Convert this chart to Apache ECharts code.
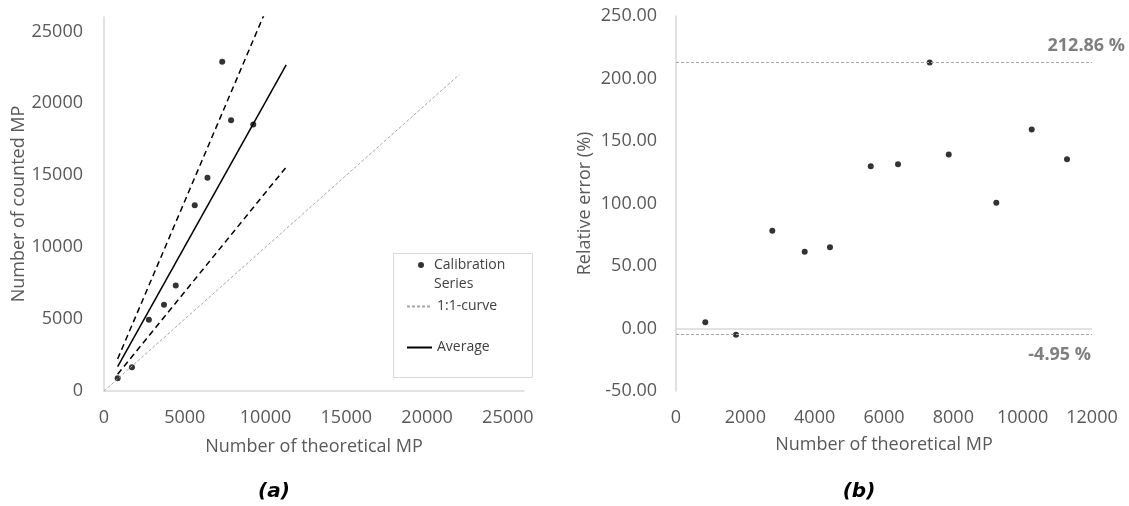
<!DOCTYPE html>
<html>
<head>
<meta charset="utf-8">
<title>Calibration series – counted vs theoretical MP</title>
<script src="https://cdn.jsdelivr.net/npm/echarts@6/dist/echarts.min.js"></script>
<style>
  html, body { margin: 0; padding: 0; background: #ffffff; }
  #chart { width: 1129px; height: 506px; }
</style>
</head>
<body>
<div id="chart"></div>
<script>
// Theoretical number of MP per calibration sample
const theoreticalMP = [845, 1731, 2778, 3713, 4442, 5617, 6404, 7318, 7867, 9240, 10261, 11279];
// Counted MP (panel a); the two largest samples lie above the 26000 axis limit
const countedMP = [887, 1645, 4950, 5993, 7329, 12908, 14819, 22895, 18818, 18535];
// Relative error of the count in percent (panel b)
const relativeErrorPct = [5.0, -4.95, 78.2, 61.4, 65.0, 129.8, 131.4, 212.86, 139.2, 100.6, 159.2, 135.4];
// Max / min relative error
const errorLimits = [212.86, -4.95];

// Reference lines of panel (a), as [theoretical, counted] end points
const oneToOneLine = [[0, 0], [22000, 22000]];
const averageLine = [[845, 1700], [11279, 22670]];
const upperBoundLine = [[845, 2230], [11279, 29780]];
const lowerBoundLine = [[845, 1166], [11279, 15565]];

// Axis ranges and steps
const countAxis = { min: 0, max: 26000, step: 5000 };
const theoAxisB = { min: 0, max: 12000, step: 2000 };
const errorAxis = { min: -50, max: 250, step: 50 };

const panelLabels = ['(a)', '(b)'];

const FONT = '"Open Sans", "Liberation Sans", sans-serif';
const TICK_COLOR = '#595959';
const AXIS_LINE = '#d9d9d9';

const scatterA = theoreticalMP.slice(0, countedMP.length).map((t, i) => [t, countedMP[i]]);
const scatterB = theoreticalMP.map((t, i) => [t, relativeErrorPct[i]]);

const chart = echarts.init(document.getElementById('chart'), null, { renderer: 'canvas' });

const tickLabel = { color: TICK_COLOR, fontSize: 18, fontFamily: FONT };
const nameStyle = { color: TICK_COLOR, fontSize: 18, fontFamily: FONT };
const plainNumber = v => String(v);

const option = {
  animation: false,
  backgroundColor: '#ffffff',
  grid: [
    { left: 104, right: 605, top: 17, bottom: 115 },
    { left: 676, right: 37, top: 16, bottom: 115 }
  ],
  xAxis: [
    {
      gridIndex: 0, type: 'value',
      min: countAxis.min, max: countAxis.max, interval: countAxis.step,
      name: 'Number of theoretical MP', nameLocation: 'middle', nameGap: 47,
      nameTextStyle: nameStyle,
      axisLine: { show: true, lineStyle: { color: AXIS_LINE, width: 1.5 } },
      axisTick: { show: false },
      splitLine: { show: false },
      axisLabel: Object.assign({ margin: 18, showMaxLabel: false, formatter: plainNumber }, tickLabel)
    },
    {
      gridIndex: 1, type: 'value',
      min: theoAxisB.min, max: theoAxisB.max, interval: theoAxisB.step,
      name: 'Number of theoretical MP', nameLocation: 'middle', nameGap: 45,
      nameTextStyle: nameStyle,
      axisLine: { show: false, onZero: false },
      axisTick: { show: false },
      splitLine: { show: false },
      axisLabel: Object.assign({ margin: 18, formatter: plainNumber }, tickLabel)
    }
  ],
  yAxis: [
    {
      gridIndex: 0, type: 'value',
      min: countAxis.min, max: countAxis.max, interval: countAxis.step,
      name: 'Number of counted MP', nameLocation: 'middle', nameGap: 72,
      nameTextStyle: nameStyle,
      axisLine: { show: true, lineStyle: { color: AXIS_LINE, width: 1.5 } },
      axisTick: { show: false },
      splitLine: { show: false },
      axisLabel: Object.assign({ margin: 21, showMaxLabel: false, formatter: plainNumber }, tickLabel)
    },
    {
      gridIndex: 1, type: 'value',
      min: errorAxis.min, max: errorAxis.max, interval: errorAxis.step,
      name: 'Relative error (%)', nameLocation: 'middle', nameGap: 82,
      nameTextStyle: nameStyle,
      axisLine: { show: true, lineStyle: { color: AXIS_LINE, width: 1.5 } },
      axisTick: { show: false },
      splitLine: { show: false },
      axisLabel: Object.assign({ margin: 19, formatter: v => v.toFixed(2) }, tickLabel)
    }
  ],
  legend: [
    {
      data: ['Calibration Series'],
      left: 418, top: 236.5, orient: 'vertical', padding: 0,
      itemWidth: 16, itemHeight: 6,
      // leading empty line keeps the marker level with the first text line
      formatter: () => '\nCalibration\nSeries',
      textStyle: { color: '#404040', fontSize: 14, fontFamily: FONT, lineHeight: 19 },
      selectedMode: false
    },
    {
      data: ['1:1-curve', 'Average'],
      left: 406, top: 297, orient: 'vertical', padding: 0,
      itemWidth: 25, itemHeight: 14, itemGap: 22,
      itemStyle: { color: 'rgba(0,0,0,0)', borderWidth: 0, opacity: 0 },
      textStyle: { color: '#404040', fontSize: 14, fontFamily: FONT, lineHeight: 19 },
      selectedMode: false
    }
  ],
  series: [
    {
      name: '1:1-curve', type: 'line', xAxisIndex: 0, yAxisIndex: 0,
      data: oneToOneLine, symbol: 'none', silent: true,
      lineStyle: { color: '#a6a6a6', width: 1, type: [3, 2] },
      itemStyle: { color: '#a6a6a6' }
    },
    {
      name: 'Upper bound', type: 'line', xAxisIndex: 0, yAxisIndex: 0,
      data: upperBoundLine, symbol: 'none', silent: true, clip: true,
      lineStyle: { color: '#000000', width: 1.5, type: [6, 4] }
    },
    {
      name: 'Lower bound', type: 'line', xAxisIndex: 0, yAxisIndex: 0,
      data: lowerBoundLine, symbol: 'none', silent: true, clip: true,
      lineStyle: { color: '#000000', width: 1.5, type: [6, 4] }
    },
    {
      name: 'Average', type: 'line', xAxisIndex: 0, yAxisIndex: 0,
      data: averageLine, symbol: 'none', silent: true,
      lineStyle: { color: '#000000', width: 1.5, type: 'solid' },
      itemStyle: { color: '#000000' }
    },
    {
      name: 'Calibration Series', type: 'scatter', xAxisIndex: 0, yAxisIndex: 0,
      data: scatterA, symbol: 'circle', symbolSize: 6,
      itemStyle: { color: '#000000' }
    },
    {
      name: 'Relative error', type: 'scatter', xAxisIndex: 1, yAxisIndex: 1,
      data: scatterB, symbol: 'circle', symbolSize: 6,
      itemStyle: { color: '#000000' },
      markLine: {
        silent: true, symbol: 'none', animation: false,
        label: { show: false },
        data: [
          { yAxis: 0, lineStyle: { color: AXIS_LINE, width: 1.5, type: 'solid' } },
          { yAxis: errorLimits[0], lineStyle: { color: '#a6a6a6', width: 1, type: [3, 2] } },
          { yAxis: errorLimits[1], lineStyle: { color: '#a6a6a6', width: 1, type: [3, 2] } }
        ]
      }
    }
  ]
};

chart.setOption(option);

// Value tags for the error limits and the panel captions
const limitStyle = { fill: '#7f7f7f', fontSize: 18, fontWeight: 'bold', fontFamily: FONT };
const pMax = chart.convertToPixel({ gridIndex: 1 }, [theoAxisB.max, errorLimits[0]]);
const pMin = chart.convertToPixel({ gridIndex: 1 }, [theoAxisB.max, errorLimits[1]]);
const gridA = chart.getModel().getComponent('grid', 0).coordinateSystem.getRect();
const gridB = chart.getModel().getComponent('grid', 1).coordinateSystem.getRect();
const captionStyle = { align: 'center', verticalAlign: 'middle', fill: '#000000',
  fontSize: 20, fontWeight: 'bold', fontStyle: 'italic', fontFamily: '"DejaVu Sans", sans-serif' };

chart.setOption({
  graphic: [
    {
      type: 'rect', silent: true,
      shape: { x: 393.5, y: 253.5, width: 139, height: 124 },
      style: { fill: 'none', stroke: '#d9d9d9', lineWidth: 1 }
    },
    {
      type: 'text', silent: true, x: pMax[0] + 33, y: pMax[1] - 17,
      style: Object.assign({ text: errorLimits[0].toFixed(2) + ' %', align: 'right', verticalAlign: 'middle' }, limitStyle)
    },
    {
      type: 'text', silent: true, x: pMin[0] - 1, y: pMin[1] + 20,
      style: Object.assign({ text: errorLimits[1].toFixed(2) + ' %', align: 'right', verticalAlign: 'middle' }, limitStyle)
    },
    {
      type: 'text', silent: true, x: gridA.x + gridA.width / 2 - 40, y: 492,
      style: Object.assign({ text: panelLabels[0] }, captionStyle)
    },
    {
      type: 'text', silent: true, x: gridB.x + gridB.width / 2 - 25, y: 492,
      style: Object.assign({ text: panelLabels[1] }, captionStyle)
    }
  ]
});
</script>
</body>
</html>
